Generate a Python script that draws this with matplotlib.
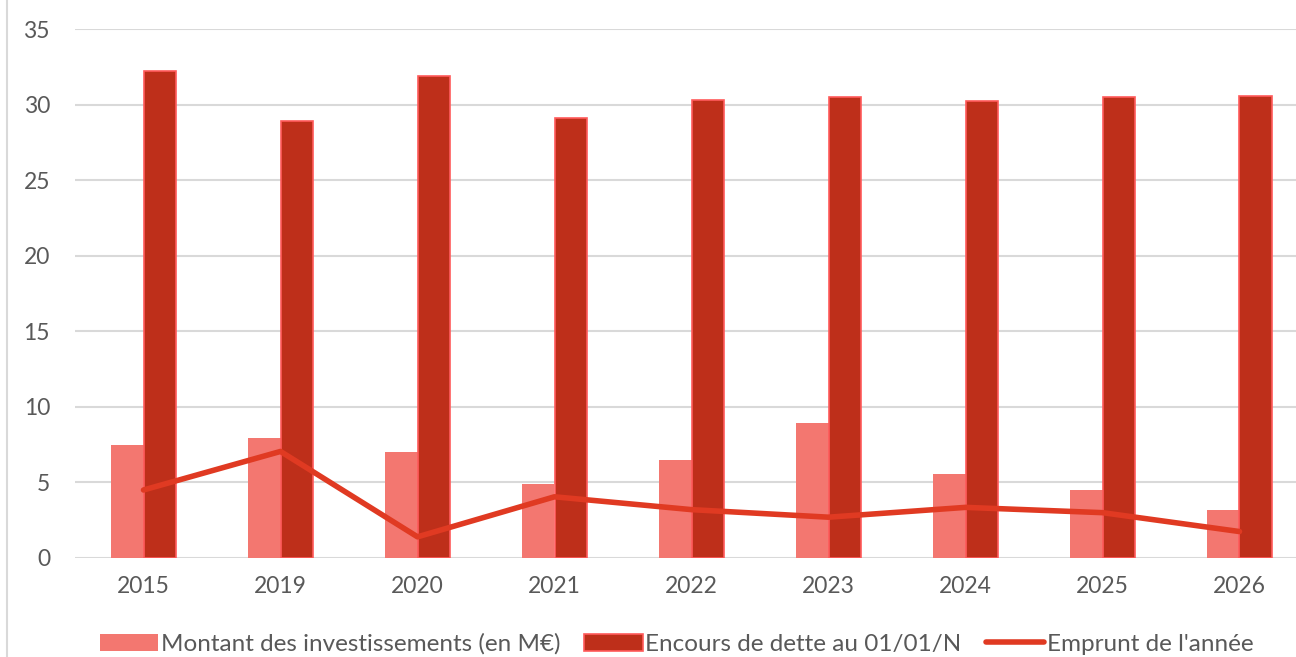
import matplotlib.pyplot as plt
import numpy as np
from matplotlib.lines import Line2D

plt.rcParams['font.family'] = ['Lato', 'DejaVu Sans']

# Data
years = ['2015', '2019', '2020', '2021', '2022', '2023', '2024', '2025', '2026']
investissements = [7.5, 7.95, 7.0, 4.9, 6.5, 8.95, 5.55, 4.5, 3.2]
encours = [32.2, 28.9, 31.9, 29.1, 30.3, 30.5, 30.25, 30.5, 30.6]
emprunt = [4.5, 7.05, 1.4, 4.05, 3.2, 2.7, 3.35, 3.0, 1.75]

LIGHT = '#F37770'
DARK = '#BE2F1A'
EDGE = '#FF5B5B'
LINE = '#E03A22'
GRID = '#D9D9D9'
TEXT = '#595959'

W, H = 1296, 657
fig = plt.figure(figsize=(W / 100, H / 100), dpi=100)
ax = fig.add_axes([75 / W, 99 / H, (1308 - 75) / W, 529 / H])

x = np.arange(len(years))
bw = 0.24
b1 = ax.bar(x - bw / 2, investissements, bw, color=LIGHT, zorder=2,
            label='Montant des investissements (en M€)')
b2 = ax.bar(x + bw / 2, encours, bw, color=DARK, edgecolor=EDGE, linewidth=1.2, zorder=2,
            label='Encours de dette au 01/01/N')
l1, = ax.plot(x, emprunt, color=LINE, linewidth=4, solid_capstyle='round', zorder=3,
              label="Emprunt de l'année")

ax.set_xlim(-0.5, len(years) - 0.5)
ax.set_ylim(0, 35)
ax.set_yticks(range(0, 36, 5))
ax.set_xticks(x)
ax.set_xticklabels(years)
ax.yaxis.grid(True, color=GRID, linewidth=1.5, zorder=0)
ax.set_axisbelow(True)
for s in ax.spines.values():
    s.set_visible(False)
ax.tick_params(length=0, colors=TEXT, labelsize=16.5)
ax.tick_params(axis='x', pad=13)
ax.tick_params(axis='y', pad=18)

# chart border on the left
fig.add_artist(Line2D([7 / W, 7 / W], [0, 1], color=GRID, linewidth=1.5))

leg = fig.legend(handles=[b1, b2, l1], loc='lower center', bbox_to_anchor=(0.522, -0.03),
                 ncol=3, frameon=False, fontsize=17.5, handlelength=2.4, handleheight=0.7,
                 columnspacing=1.0, handletextpad=0.1)
for t in leg.get_texts():
    t.set_color(TEXT)

fig.savefig('out.png', dpi=100)
